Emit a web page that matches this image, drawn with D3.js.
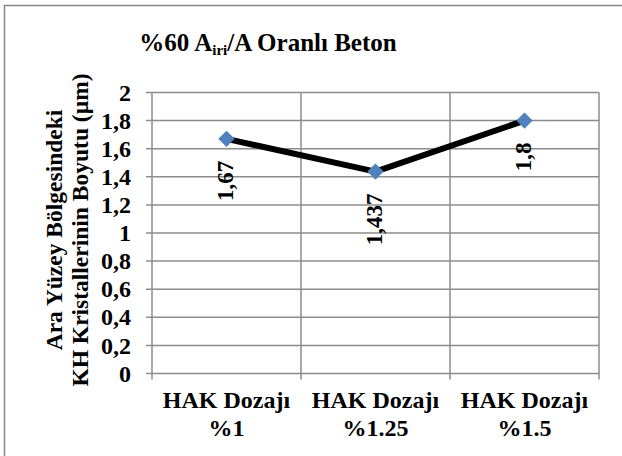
<!DOCTYPE html>
<html>
<head>
<meta charset="utf-8">
<script src="https://cdn.jsdelivr.net/npm/d3@7"></script>
<style>
  body { margin: 0; background: #fff; }
</style>
</head>
<body>
<div id="chart"></div>
<script>
const categories = ['HAK Dozajı|%1', 'HAK Dozajı|%1.25', 'HAK Dozajı|%1.5'];
const values = [1.67, 1.437, 1.8];
const valueLabels = ['1,67', '1,437', '1,8'];
const yTicks = [0, 0.2, 0.4, 0.6, 0.8, 1, 1.2, 1.4, 1.6, 1.8, 2];

const w = 622;
const h = 456;
const plotLeft = 152, plotRight = 599, plotTop = 92.5, plotBottom = 373.5;

const svg = d3.select('#chart')
  .append('svg')
  .attr('width', w)
  .attr('height', h)
  .attr('font-family', 'Liberation Serif, serif')
  .attr('font-weight', 'bold');

// chart border (right/bottom edges fall outside the picture)
svg.append('rect')
  .attr('x', 4.5).attr('y', 5.5)
  .attr('width', 630).attr('height', 470)
  .attr('fill', 'none')
  .attr('stroke', '#868686')
  .attr('stroke-width', 1.5);

const xScale = d3.scaleBand()
  .domain(categories)
  .range([plotLeft, plotRight]);
const yScale = d3.scaleLinear()
  .domain([0, 2])
  .range([plotBottom, plotTop]);

// horizontal gridlines
svg.append('g')
  .selectAll('line')
  .data(yTicks)
  .enter()
  .append('line')
  .attr('x1', plotLeft - 6)
  .attr('x2', plotRight)
  .attr('y1', d => yScale(d))
  .attr('y2', d => yScale(d))
  .attr('stroke', '#8c8c8c')
  .attr('stroke-width', 1.5);

// vertical gridlines at category boundaries
const bounds = categories.map(c => xScale(c)).concat([plotRight]);
svg.append('g')
  .selectAll('line')
  .data(bounds)
  .enter()
  .append('line')
  .attr('x1', d => d)
  .attr('x2', d => d)
  .attr('y1', plotTop)
  .attr('y2', plotBottom + 6)
  .attr('stroke', '#8c8c8c')
  .attr('stroke-width', 1.5);

// y tick labels
svg.append('g')
  .selectAll('text')
  .data(yTicks)
  .enter()
  .append('text')
  .attr('x', 131)
  .attr('y', d => yScale(d))
  .attr('dy', '0.34em')
  .attr('text-anchor', 'end')
  .attr('font-size', 24)
  .text(d => String(d).replace('.', ','));

// x labels
const xl = svg.append('g')
  .selectAll('text')
  .data(categories)
  .enter()
  .append('text')
  .attr('text-anchor', 'middle')
  .attr('font-size', 24);
xl.append('tspan')
  .attr('x', d => xScale(d) + xScale.bandwidth() / 2)
  .attr('y', 408)
  .text(d => d.split('|')[0]);
xl.append('tspan')
  .attr('x', d => xScale(d) + xScale.bandwidth() / 2)
  .attr('y', 436)
  .text(d => d.split('|')[1]);

// title
const title = svg.append('text')
  .attr('x', 268)
  .attr('y', 51)
  .attr('text-anchor', 'middle')
  .attr('font-size', 25);
title.append('tspan').text('%60 A');
title.append('tspan').attr('font-size', 15).attr('dy', 4).text('iri');
title.append('tspan').attr('dy', -4).text('/A Oranlı Beton');

// y axis title
const yTitle = svg.append('text')
  .attr('transform', 'translate(0,230) rotate(-90)')
  .attr('text-anchor', 'middle')
  .attr('font-size', 23.5);
yTitle.append('tspan').attr('x', 0).attr('y', 62).text('Ara Yüzey Bölgesindeki');
yTitle.append('tspan').attr('x', 0).attr('y', 88).text('KH Kristallerinin Boyutu (µm)');

// series line
const cx = (d, i) => xScale(categories[i]) + xScale.bandwidth() / 2;
const line = d3.line()
  .x((d, i) => cx(d, i))
  .y(d => yScale(d));
svg.append('path')
  .datum(values)
  .attr('d', line)
  .attr('fill', 'none')
  .attr('stroke', '#000')
  .attr('stroke-width', 6)
  .attr('stroke-linejoin', 'round');

// markers
svg.append('g')
  .selectAll('path')
  .data(values)
  .enter()
  .append('path')
  .attr('d', d3.symbol().type(d3.symbolDiamond2).size(170))
  .attr('transform', (d, i) => 'translate(' + cx(d, i) + ',' + yScale(d) + ')')
  .attr('fill', '#4f81bd');

// data labels (rotated, below the points)
svg.append('g')
  .selectAll('text')
  .data(values)
  .enter()
  .append('text')
  .attr('transform', (d, i) => 'translate(' + (cx(d, i) + 6) + ',' + (yScale(d) + 22) + ') rotate(-90)')
  .attr('text-anchor', 'end')
  .attr('font-size', 23)
  .text((d, i) => valueLabels[i]);
</script>
</body>
</html>
